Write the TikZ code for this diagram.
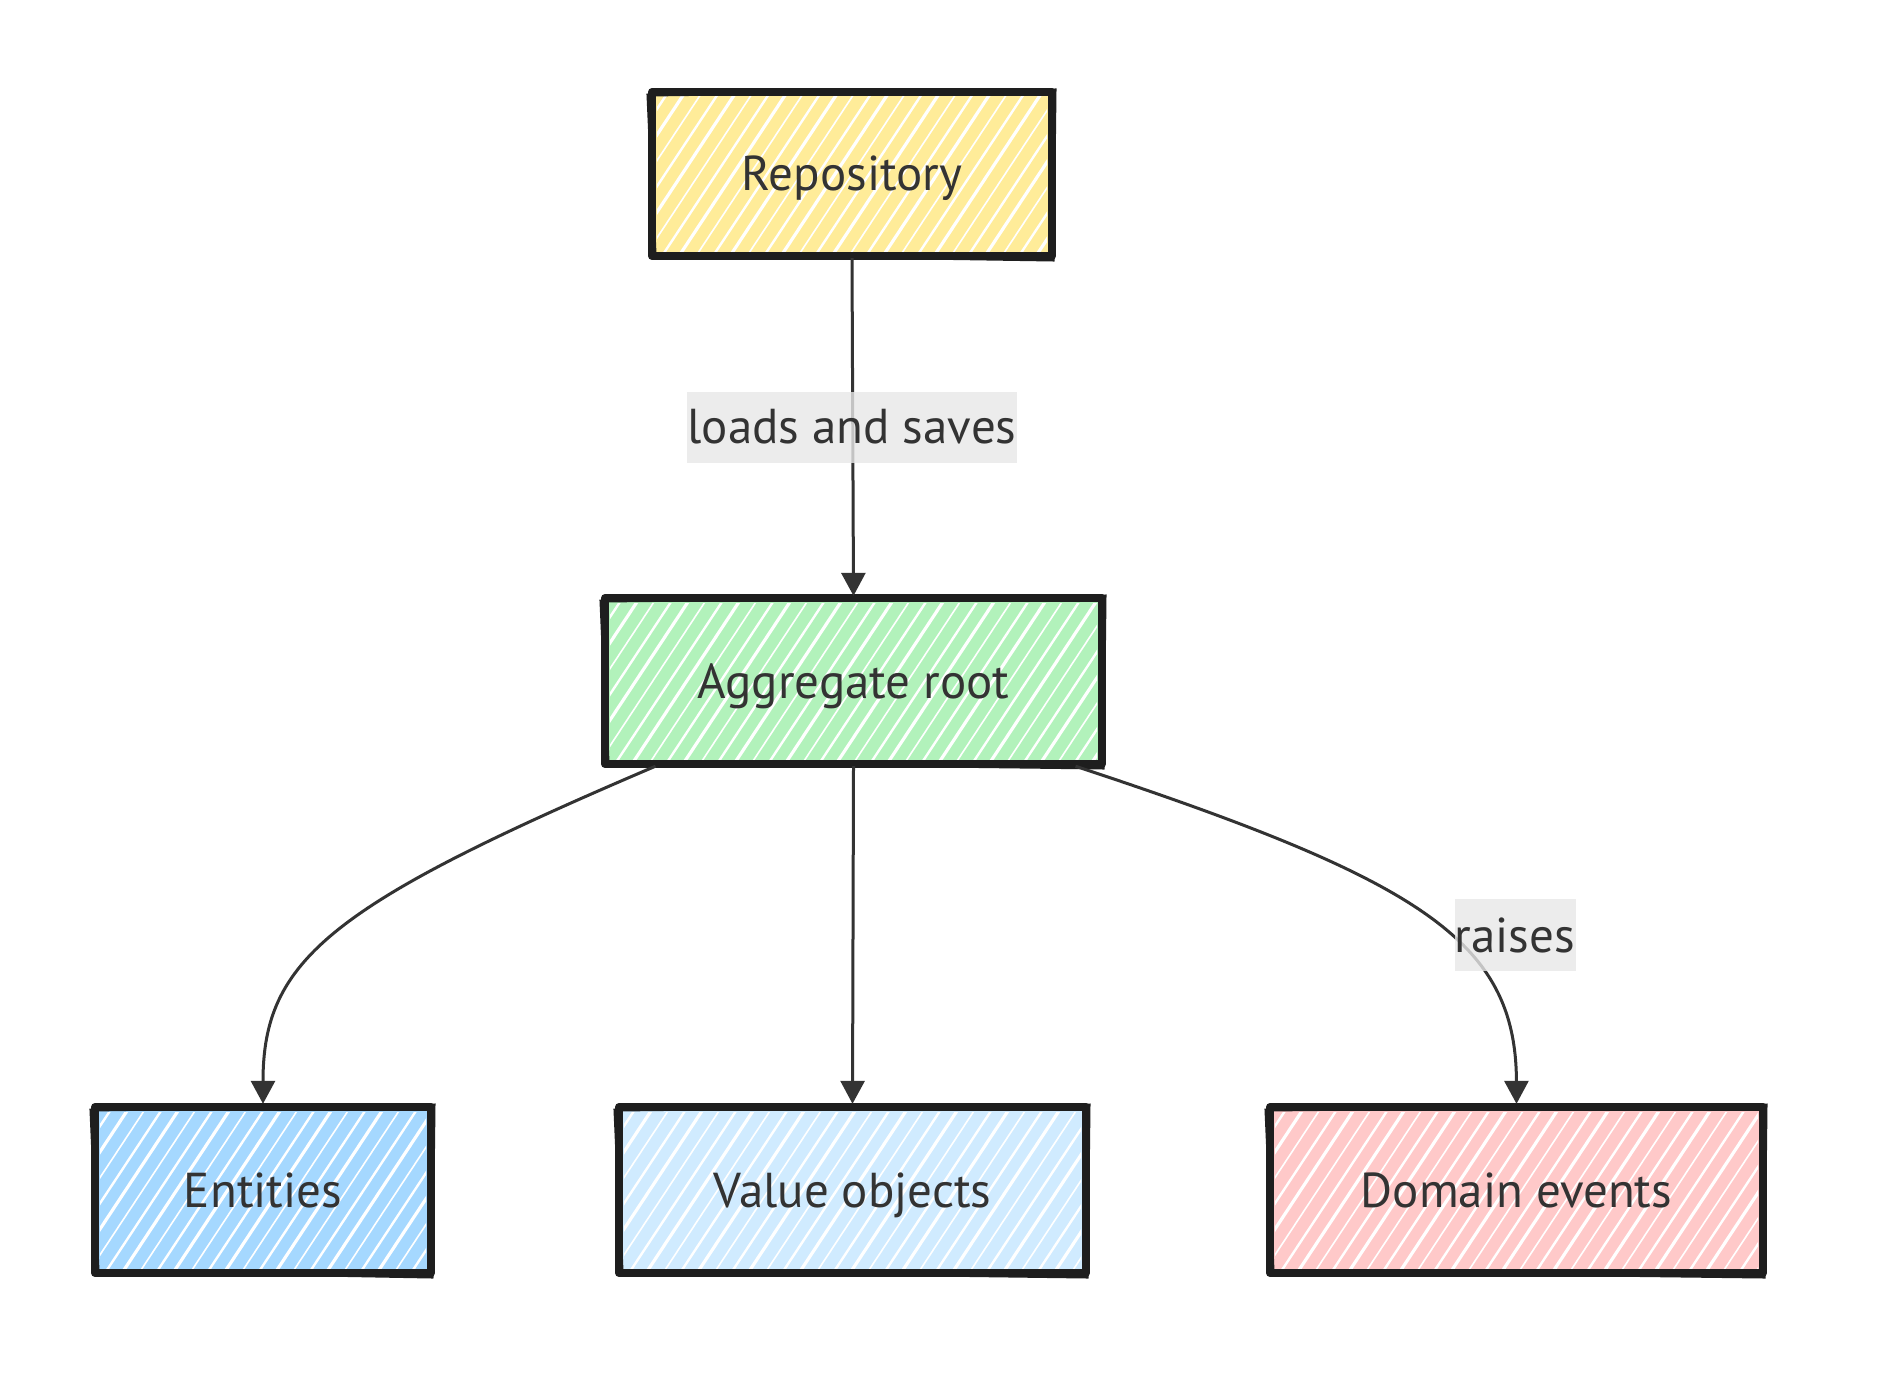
\documentclass[tikz,border=0pt]{standalone}
\usepackage{fontspec}
\setmainfont{PT Sans}
\usetikzlibrary{arrows.meta}
\definecolor{ink}{HTML}{1E1E1E}
\definecolor{edgec}{HTML}{333333}
\definecolor{cyellow}{HTML}{FFEC99}
\definecolor{cgreen}{HTML}{B2F2BB}
\definecolor{cblue}{HTML}{A5D8FF}
\definecolor{clblue}{HTML}{D0EBFF}
\definecolor{cred}{HTML}{FFC9C9}
\definecolor{lblbg}{HTML}{E8E8E8}
\tikzset{
  boxtext/.style={inner sep=0pt, text=edgec, font=\fontsize{49}{58}\selectfont, text height=34pt, text depth=0pt},
  boxborder/.style={draw=ink, line width=8pt, line join=round, line cap=round},
  boxsketch/.style={draw=ink, line width=3pt, line cap=round},
  hatchline/.style={draw=white, line cap=round},
  edgeline/.style={draw=edgec, line width=3pt, -{Triangle[length=23pt,width=24pt]}},
  lbl/.style={fill=lblbg, fill opacity=0.8, text opacity=1, text=edgec, inner sep=0pt, font=\fontsize{49}{58}\selectfont}
}
% name, x1, y1, x2, y2, colour, text
\newcommand\sketchbox[7]{%
  \fill[#6] (#2,#3) rectangle (#4,#5);
  \begin{scope}
    \clip (#2+5,#3+5) rectangle (#4-5,#5-5);
    \foreach \k in {0,...,50}{%
      \pgfmathsetmacro\xa{#2-160+\k*17}%
      \pgfmathsetmacro\lw{1.6+mod(\k*7,3)*0.8}%
      \draw[hatchline, line width=\lw pt] (\xa,#5) -- ++({(#5-#3)*0.66},{-(#5-#3)});
    }
  \end{scope}
  \node[boxtext, minimum width={(#4-#2)*1pt}, minimum height={(#5-#3)*1pt}] (#1) at ({(#2+#4)/2},{(#3+#5)/2}) {#7};
  \draw[boxborder] (#2,#3) rectangle (#4,#5);
  \draw[boxsketch] (#2-4,#3+3) -- (#4+3,#3-2) -- (#4+1,#5+4) -- (#2+3,#5-2) -- cycle;
}
\begin{document}
\begin{tikzpicture}[x=1pt, y=-1pt]
  \useasboundingbox (0,0) rectangle (1878,1383);
  \fill[white] (0,0) rectangle (1878,1383);

  \sketchbox{repo}{652}{92}{1052}{256}{cyellow}{Repository}
  \sketchbox{agg}{605}{598}{1102}{764}{cgreen}{Aggregate root}
  \sketchbox{ent}{95}{1107}{431}{1273}{cblue}{Entities}
  \sketchbox{vo}{619}{1107}{1086}{1273}{clblue}{Value objects}
  \sketchbox{dev}{1270}{1107}{1763}{1273}{cred}{Domain events}

  % connectors
  \draw[edgeline] ([yshift=-2pt]repo.south) -- ([yshift=2pt]agg.north);
  \draw[edgeline] ([xshift=-198pt,yshift=-2pt]agg.south) .. controls (330,905) and (263,960) .. ([yshift=3pt]ent.north);
  \draw[edgeline] ([yshift=-2pt]agg.south) -- ([yshift=3pt]vo.north);
  \draw[edgeline] ([xshift=222pt,yshift=-2pt]agg.south) .. controls (1420,880) and (1516,940) .. ([yshift=3pt]dev.north);

  % edge labels
  \node[lbl, minimum width=330pt, minimum height=71pt] (l1) at (852,427) {loads and saves};
  \node[lbl, minimum width=121pt, minimum height=72pt] (l2) at (1515,935) {raises};
\end{tikzpicture}
\end{document}
